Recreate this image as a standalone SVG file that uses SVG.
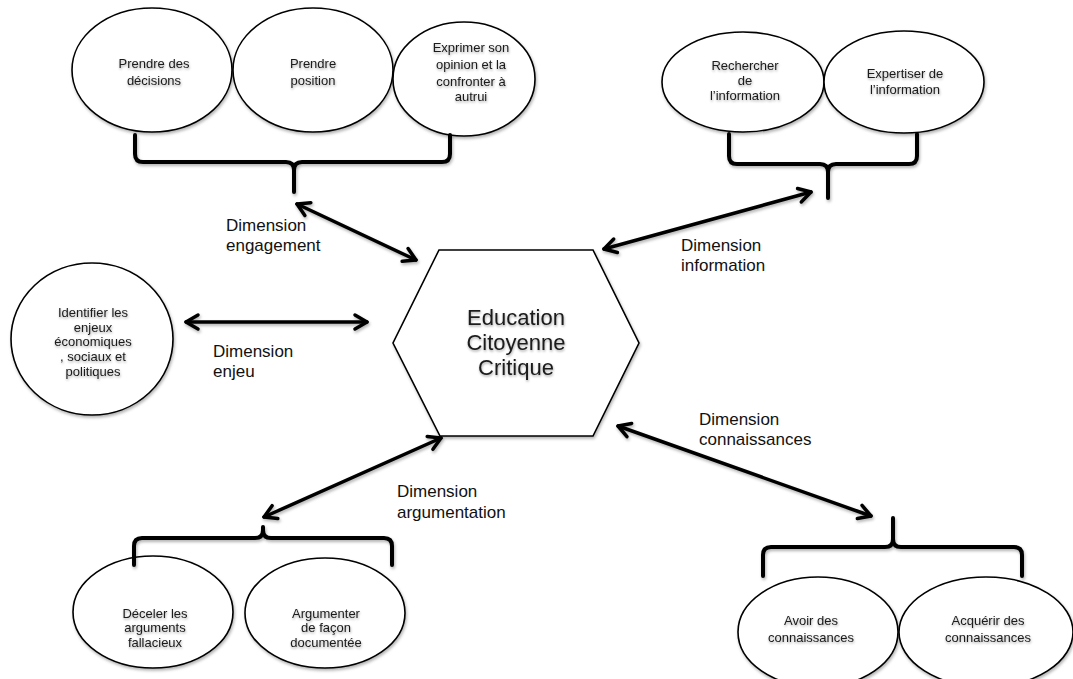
<svg xmlns="http://www.w3.org/2000/svg" width="1073" height="679" viewBox="0 0 1073 679">
<defs>
<filter id="sh" filterUnits="userSpaceOnUse" x="0" y="0" width="1073" height="679">
<feDropShadow dx="1" dy="2" stdDeviation="1.5" flood-color="#000" flood-opacity="0.3"/>
</filter>
<filter id="tsh" filterUnits="userSpaceOnUse" x="0" y="0" width="1073" height="679">
<feDropShadow dx="0.5" dy="1.5" stdDeviation="1" flood-color="#000" flood-opacity="0.35"/>
</filter>
<marker id="ah" viewBox="0 0 20 20" refX="17" refY="10" markerWidth="20" markerHeight="20" markerUnits="userSpaceOnUse" orient="auto-start-reverse">
<path d="M5,3 L17,10 L5,17" fill="none" stroke="#000" stroke-width="3.5" stroke-linecap="round" stroke-linejoin="round"/>
</marker>
<style>
.shape{fill:#fff;stroke:#000;stroke-width:1.6;filter:url(#sh)}
.t{font-family:"Liberation Sans",Arial,sans-serif;font-size:13px;fill:#1a1a1a;text-anchor:middle;filter:url(#tsh)}
.lbl{font-family:"Liberation Sans",Arial,sans-serif;font-size:17px;fill:#111}
.hx{font-family:"Liberation Sans",Arial,sans-serif;font-size:22px;fill:#1a1a1a;text-anchor:middle;filter:url(#tsh)}
.br{fill:none;stroke:#000;stroke-width:4;stroke-linecap:round;stroke-linejoin:round;filter:url(#sh)}
.ar{fill:none;stroke:#000;stroke-width:3.5;stroke-linecap:round;marker-start:url(#ah);marker-end:url(#ah);filter:url(#sh)}
</style>
</defs>
<rect width="1073" height="679" fill="#fff"/>

<g id="center">
<polygon class="shape" points="439,250 593,250 639,343 593,436 440,436 393,343"/>
<text class="hx" x="516" y="325">Education</text>
<text class="hx" x="516" y="350">Citoyenne</text>
<text class="hx" x="516" y="375">Critique</text>
</g>

<g id="n-decisions">
<ellipse class="shape" cx="152" cy="70" rx="80" ry="62"/>
<text class="t" x="154" y="68">Prendre des</text>
<text class="t" x="154" y="85">décisions</text>
</g>
<g id="n-position">
<ellipse class="shape" cx="313" cy="70" rx="80" ry="62"/>
<text class="t" x="313" y="68">Prendre</text>
<text class="t" x="313" y="85">position</text>
</g>
<g id="n-opinion">
<ellipse class="shape" cx="464" cy="79" rx="71" ry="57"/>
<text class="t" x="471" y="52">Exprimer son</text>
<text class="t" x="471" y="69">opinion et la</text>
<text class="t" x="471" y="86">confronter à</text>
<text class="t" x="471" y="101">autrui</text>
</g>

<g id="n-rechercher">
<ellipse class="shape" cx="743" cy="82" rx="81" ry="50"/>
<text class="t" x="745" y="70">Rechercher</text>
<text class="t" x="745" y="85">de</text>
<text class="t" x="745" y="100">l’information</text>
</g>
<g id="n-expertiser">
<ellipse class="shape" cx="904" cy="82" rx="80" ry="51"/>
<text class="t" x="905" y="78">Expertiser de</text>
<text class="t" x="905" y="94">l’information</text>
</g>

<g id="n-enjeux">
<ellipse class="shape" cx="92" cy="339" rx="81" ry="76"/>
<text class="t" x="93" y="317">Identifier les</text>
<text class="t" x="93" y="332">enjeux</text>
<text class="t" x="93" y="346">économiques</text>
<text class="t" x="93" y="361">, sociaux et</text>
<text class="t" x="93" y="376">politiques</text>
</g>

<g id="n-deceler">
<ellipse class="shape" cx="153" cy="612" rx="80" ry="56"/>
<text class="t" x="155" y="618">Déceler les</text>
<text class="t" x="155" y="632">arguments</text>
<text class="t" x="155" y="647">fallacieux</text>
</g>
<g id="n-argumenter">
<ellipse class="shape" cx="325" cy="613" rx="80" ry="55"/>
<text class="t" x="326" y="618">Argumenter</text>
<text class="t" x="326" y="632">de façon</text>
<text class="t" x="326" y="647">documentée</text>
</g>

<g id="n-avoir">
<ellipse class="shape" cx="818" cy="632" rx="80" ry="55"/>
<text class="t" x="811" y="625">Avoir des</text>
<text class="t" x="811" y="642">connaissances</text>
</g>
<g id="n-acquerir">
<ellipse class="shape" cx="986" cy="632" rx="87" ry="55"/>
<text class="t" x="988" y="625">Acquérir des</text>
<text class="t" x="988" y="642">connaissances</text>
</g>

<g id="connectors">
<path class="br" d="M135,135 L135,154 Q135,162 143,162 L286,162 Q294,162 294,170 L294,192 M450,135 L450,154 Q450,162 442,162 L302,162 Q294,162 294,170"/>
<path class="br" d="M729,134 L729,156 Q729,164 737,164 L820,164 Q828,164 828,172 L828,198 M917,134 L917,156 Q917,164 909,164 L836,164 Q828,164 828,172"/>
<path class="br" d="M134,565 L134,546 Q134,538 142,538 L255,538 Q263,538 263,530 L263,527 M392,565 L392,546 Q392,538 384,538 L271,538 Q263,538 263,530"/>
<path class="br" d="M763,576 L763,555 Q763,547 771,547 L885,547 Q893,547 893,539 L893,518 M1022,576 L1022,555 Q1022,547 1014,547 L901,547 Q893,547 893,539"/>
<line class="ar" x1="297" y1="204" x2="416" y2="260"/>
<line class="ar" x1="604" y1="249" x2="811" y2="192"/>
<line class="ar" x1="186" y1="322" x2="367" y2="322"/>
<line class="ar" x1="441" y1="438" x2="264" y2="517"/>
<line class="ar" x1="618" y1="426" x2="871" y2="516"/>
</g>

<g id="labels">
<text class="lbl" x="226" y="231">Dimension</text>
<text class="lbl" x="226" y="251">engagement</text>
<text class="lbl" x="681" y="251">Dimension</text>
<text class="lbl" x="681" y="271">information</text>
<text class="lbl" x="213" y="357">Dimension</text>
<text class="lbl" x="213" y="377">enjeu</text>
<text class="lbl" x="397" y="497">Dimension</text>
<text class="lbl" x="397" y="518">argumentation</text>
<text class="lbl" x="699" y="425">Dimension</text>
<text class="lbl" x="699" y="445">connaissances</text>
</g>
</svg>
